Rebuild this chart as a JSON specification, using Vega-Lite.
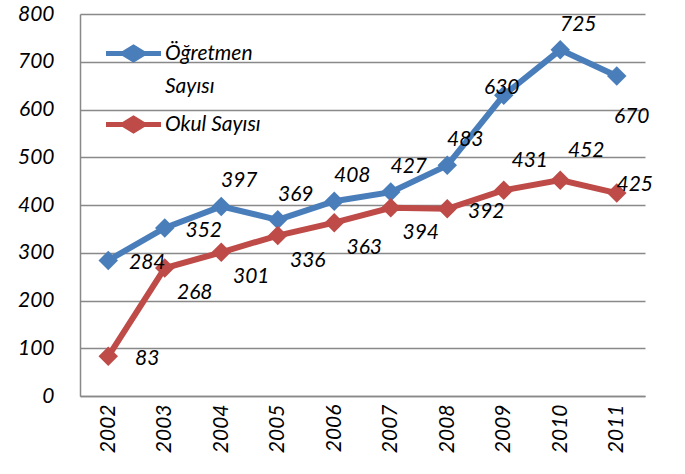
{
  "$schema": "https://vega.github.io/schema/vega-lite/v6.json",
  "autosize": "none",
  "width": 565,
  "height": 382,
  "padding": {"left": 80, "top": 14, "right": 40, "bottom": 78},
  "background": "white",
  "config": {
    "view": {"stroke": null},
    "font": "Lato",
    "style": {"guide-label": {"font": "Lato", "fontStyle": "italic", "fontSize": 21, "fill": "black"}},
    "axis": {"labelFont": "Lato", "labelFontStyle": "italic", "labelFontSize": 21, "labelColor": "black"},
    "legend": {"labelFont": "Lato", "labelFontStyle": "italic", "labelFontSize": 21, "labelColor": "black"},
    "text": {"font": "Lato", "fontStyle": "italic", "fontSize": 21, "color": "black"}
  },
  "data": {
    "values": [
      {"year": "2002", "series": "Öğretmen Sayısı", "value": 284},
      {"year": "2003", "series": "Öğretmen Sayısı", "value": 352},
      {"year": "2004", "series": "Öğretmen Sayısı", "value": 397},
      {"year": "2005", "series": "Öğretmen Sayısı", "value": 369},
      {"year": "2006", "series": "Öğretmen Sayısı", "value": 408},
      {"year": "2007", "series": "Öğretmen Sayısı", "value": 427},
      {"year": "2008", "series": "Öğretmen Sayısı", "value": 483},
      {"year": "2009", "series": "Öğretmen Sayısı", "value": 630},
      {"year": "2010", "series": "Öğretmen Sayısı", "value": 725},
      {"year": "2011", "series": "Öğretmen Sayısı", "value": 670},
      {"year": "2002", "series": "Okul Sayısı", "value": 83},
      {"year": "2003", "series": "Okul Sayısı", "value": 268},
      {"year": "2004", "series": "Okul Sayısı", "value": 301},
      {"year": "2005", "series": "Okul Sayısı", "value": 336},
      {"year": "2006", "series": "Okul Sayısı", "value": 363},
      {"year": "2007", "series": "Okul Sayısı", "value": 394},
      {"year": "2008", "series": "Okul Sayısı", "value": 392},
      {"year": "2009", "series": "Okul Sayısı", "value": 431},
      {"year": "2010", "series": "Okul Sayısı", "value": 452},
      {"year": "2011", "series": "Okul Sayısı", "value": 425}
    ]
  },
  "encoding": {
    "x": {
      "field": "year", "type": "ordinal",
      "scale": {"type": "point", "padding": 0.5},
      "axis": {
        "title": null, "labelAngle": -90, "labelFontStyle": "italic",
        "labelPadding": 8, "ticks": false, "domainColor": "#898989", "domainWidth": 1.5, "grid": false,
        "encode": {"labels": {"enter": {"fontStyle": {"value": "italic"}}, "update": {"fontStyle": {"value": "italic"}}}}
      }
    },
    "y": {
      "field": "value", "type": "quantitative",
      "scale": {"domain": [0, 800], "nice": false},
      "axis": {
        "title": null, "values": [0, 100, 200, 300, 400, 500, 600, 700, 800],
        "labelFontStyle": "italic", "labelPadding": 26, "ticks": false,
        "domainColor": "#898989", "domainWidth": 1.5, "gridColor": "#898989", "gridWidth": 1.5,
        "encode": {"labels": {"enter": {"fontStyle": {"value": "italic"}}, "update": {"fontStyle": {"value": "italic"}}}}
      }
    },
    "color": {
      "field": "series", "type": "nominal",
      "scale": {"domain": ["Öğretmen Sayısı", "Okul Sayısı"], "range": ["#4A7EBB", "#BE4B48"]},
      "legend": {
        "title": null, "orient": "none", "legendX": 26, "legendY": 12,
        "symbolType": "M-1,-0.09L-0.4,-0.09L0,-0.34L0.4,-0.09L1,-0.09L1,0.09L0.4,0.09L0,0.34L-0.4,0.09L-1,0.09Z",
        "symbolSize": 3025, "symbolOpacity": 1, "symbolStrokeWidth": 0,
        "labelFontStyle": "italic", "labelOffset": 4, "labelLimit": 300, "rowPadding": 0,
        "labelExpr": "datum.label == 'Öğretmen Sayısı' ? ['Öğretmen', 'Sayısı'] : datum.label",
        "encode": {"labels": {"update": {
          "fontStyle": {"value": "italic"},
          "lineHeight": {"value": 33}
        }}}
      }
    }
  },
  "layer": [
    {
      "mark": {"type": "line", "strokeWidth": 6}
    },
    {
      "mark": {"type": "point", "shape": "diamond", "filled": true, "size": 380, "opacity": 1, "strokeWidth": 1}
    },
    {
      "transform": [{"filter": {"and": [{"field": "series", "equal": "Öğretmen Sayısı"}, {"field": "year", "oneOf": ["2004", "2005", "2006", "2007", "2008", "2010"]}]}}],
      "mark": {"type": "text", "dx": 18, "dy": -25},
      "encoding": {"text": {"field": "value"}, "color": {"value": "black"}}
    },
    {
      "transform": [{"filter": {"and": [{"field": "series", "equal": "Okul Sayısı"}, {"field": "year", "oneOf": ["2009", "2010"]}]}}],
      "mark": {"type": "text", "dx": 26, "dy": -29},
      "encoding": {"text": {"field": "value"}, "color": {"value": "black"}}
    },
    {
      "transform": [{"filter": {"or": [{"and": [{"field": "series", "equal": "Öğretmen Sayısı"}, {"field": "year", "oneOf": ["2002", "2003"]}]}, {"and": [{"field": "series", "equal": "Okul Sayısı"}, {"field": "year", "oneOf": ["2002", "2008"]}]}]}}],
      "mark": {"type": "text", "dx": 39, "dy": 3},
      "encoding": {"text": {"field": "value"}, "color": {"value": "black"}}
    },
    {
      "transform": [{"filter": {"and": [{"field": "series", "equal": "Okul Sayısı"}, {"field": "year", "oneOf": ["2003", "2004", "2005", "2006", "2007"]}]}}],
      "mark": {"type": "text", "dx": 30, "dy": 25},
      "encoding": {"text": {"field": "value"}, "color": {"value": "black"}}
    },
    {
      "transform": [{"filter": {"and": [{"field": "series", "equal": "Öğretmen Sayısı"}, {"field": "year", "equal": "2009"}]}}],
      "mark": {"type": "text", "dx": -2, "dy": -7},
      "encoding": {"text": {"field": "value"}, "color": {"value": "black"}}
    },
    {
      "transform": [{"filter": {"and": [{"field": "series", "equal": "Öğretmen Sayısı"}, {"field": "year", "equal": "2011"}]}}],
      "mark": {"type": "text", "dx": 15, "dy": 41},
      "encoding": {"text": {"field": "value"}, "color": {"value": "black"}}
    },
    {
      "transform": [{"filter": {"and": [{"field": "series", "equal": "Okul Sayısı"}, {"field": "year", "equal": "2011"}]}}],
      "mark": {"type": "text", "dx": 18, "dy": -8},
      "encoding": {"text": {"field": "value"}, "color": {"value": "black"}}
    }
  ]
}
